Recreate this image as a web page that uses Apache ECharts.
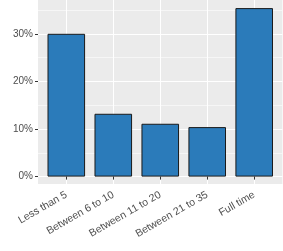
<!DOCTYPE html>
<html><head><meta charset="utf-8">
<script src="https://cdn.jsdelivr.net/npm/echarts@6/dist/echarts.min.js"></script>
<style>html,body{margin:0;padding:0;background:#fff}#c{width:283px;height:251px}</style>
</head><body><div id="c"></div>
<script>
const categories = ['Less than 5', 'Between 6 to 10', 'Between 11 to 20', 'Between 21 to 35', 'Full time'];
const shares = [30.0, 13.2, 11.1, 10.4, 35.4];
const yTickMin = 0, yTickMax = 40, yTickStep = 10;

// layout (pixels)
const panelL = 38, panelR = 0.6, panelT = 0, panelB = 67;   // gray panel
const zeroY = 176.6, pxPerUnit = 4.76;                        // 0% line, px per 1%
const catL = 66.3, catR = 28.8;                               // first/last category centres
const panelH = 251 - panelT - panelB;
const yLo = -(panelT + panelH - zeroY) / pxPerUnit;
const yHi = (zeroY - panelT) / pxPerUnit;

const font = 'Liberation Sans, Arial, Helvetica, sans-serif';
const chart = echarts.init(document.getElementById('c'), null, {renderer: 'canvas'});
chart.setOption({
  animation: false,
  backgroundColor: '#ffffff',
  grid: [
    {left: panelL, right: panelR, top: panelT, bottom: panelB, show: true, backgroundColor: '#EBEBEB', borderWidth: 0, outerBoundsMode: 'none', containLabel: false},
    {left: catL, right: catR, top: panelT, bottom: panelB, outerBoundsMode: 'none', containLabel: false},
    {left: panelL, right: panelR, top: zeroY - yTickMax * pxPerUnit, bottom: 251 - zeroY, outerBoundsMode: 'none', containLabel: false}
  ],
  xAxis: [
    {gridIndex: 0, type: 'value', show: false},
    {gridIndex: 1, type: 'category', data: categories, boundaryGap: false,
     axisLine: {show: false},
     axisTick: {show: true, length: 3, lineStyle: {color: '#333333', width: 1}},
     splitLine: {show: true, lineStyle: {color: '#ffffff', width: 1.1}},
     axisLabel: {rotate: 30, margin: 10, color: '#4D4D4D', fontSize: 10.5, fontFamily: font, interval: 0}},
    {gridIndex: 2, type: 'value', show: false}
  ],
  yAxis: [
    {gridIndex: 0, type: 'value', show: false},
    {gridIndex: 1, type: 'value', show: false, min: yLo, max: yHi},
    {gridIndex: 2, type: 'value', min: yTickMin, max: yTickMax, interval: yTickStep,
     axisLine: {show: false},
     axisTick: {show: true, length: 3, lineStyle: {color: '#333333', width: 1}},
     minorTick: {show: false, splitNumber: 2},
     splitLine: {show: true, lineStyle: {color: '#ffffff', width: 1.1}},
     minorSplitLine: {show: true, lineStyle: {color: '#ffffff', width: 0.55}},
     axisLabel: {margin: 5, color: '#4D4D4D', fontSize: 10, fontFamily: font, formatter: v => v + '%'}}
  ],
  series: [{
    type: 'bar', xAxisIndex: 1, yAxisIndex: 1, data: shares, barWidth: '80%', clip: false,
    itemStyle: {color: '#2B7BBA', borderColor: '#1A1A1A', borderWidth: 1}
  }]
});
</script></body></html>
